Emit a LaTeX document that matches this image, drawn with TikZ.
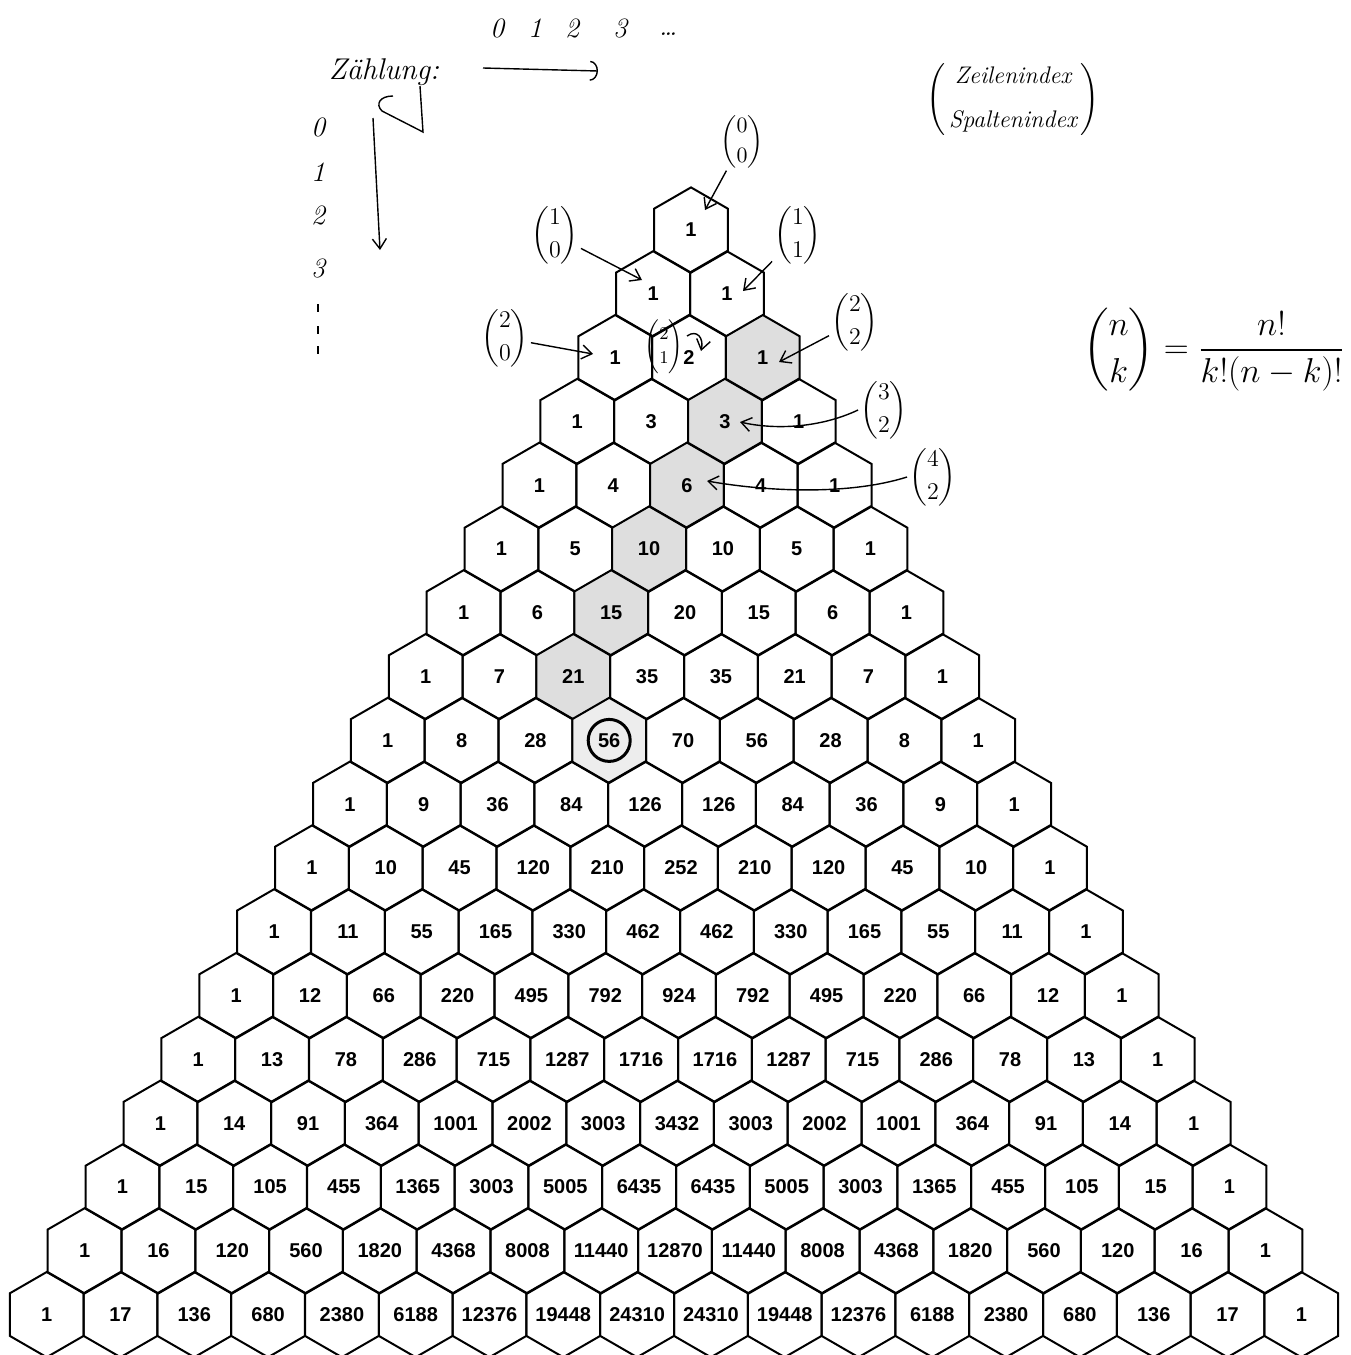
\documentclass[tikz,border=0pt]{standalone}
\usepackage{fontspec}
\usepackage{amsmath}
\newfontfamily\cellfont{Liberation Sans}
\usetikzlibrary{shapes.geometric, arrows.meta, positioning}

\begin{document}
\begin{tikzpicture}[
    x=0.5pt, y=-0.5pt,
    hexcell/.style={regular polygon, regular polygon sides=6, shape border rotate=30, minimum size=42.6pt, inner sep=0pt, outer sep=0pt, draw, line width=1pt, font=\cellfont\bfseries\fontsize{10}{12}\selectfont},
    marked/.style={fill=black!13},
    faint/.style={fill=black!7},
    cell-2-2/.style={marked}, cell-3-2/.style={marked}, cell-4-2/.style={marked},
    cell-5-2/.style={marked}, cell-6-2/.style={marked}, cell-7-2/.style={marked},
    cell-8-3/.style={faint},
    handtext/.style={font=\itshape\fontsize{15}{17}\selectfont, inner sep=1pt},
    handdigit/.style={font=\itshape\fontsize{14}{16}\selectfont, inner sep=1pt},
    binomnote/.style={inner sep=1pt, font=\fontsize{13}{15}\selectfont},
    handarrow/.style={line width=0.7pt, -{Straight Barb[length=5pt,width=7pt]}},
    roundarrow/.style={line width=0.7pt, -{Arc Barb[length=4pt,width=10pt]}}
]
\useasboundingbox (0,0) rectangle (1350,1355);

\foreach \n in {0,...,17}{
  \xdef\val{1}
  \foreach \k in {0,...,\n}{
    \node[hexcell, cell-\n-\k/.try] (h-\n-\k) at ({691-\n+(\k-\n/2)*73.8},{230+\n*63.8}) {\makebox[0pt]{\val}};
    \xdef\val{\the\numexpr\val*(\n-\k)/(\k+1)\relax}
  }
}
\node[draw, circle, line width=1.5pt, minimum size=21pt, inner sep=0pt] (ring) at (h-8-3) {};

\node[handtext] (zaehlung) at (384,72) {Zählung:};
\foreach \d/\x in {0/497,1/535,2/572,3/620}
  \node[handdigit] (top\d) at (\x,28) {\d};
\node[handdigit] (topdots) at (668,34) {\dots};
\foreach \d/\y in {0/127,1/172,2/215,3/268}
  \node[handdigit] (left\d) at (318,\y) {\d};
\foreach \y in {308,330,350}
  \draw[line width=0.8pt] (318,\y-4) -- (318,\y+4);

\coordinate (r0) at (483,68);
\coordinate (r1) at (598,71);
\coordinate (d0) at (373,118);
\coordinate (d1) at (380,250);
\draw[roundarrow] (r0) -- (r1);
\draw[handarrow] (d0) -- (d1);
\draw[line width=0.7pt] (420,86) -- (423,132) -- (382,111) .. controls (375,104) and (380,96) .. (393,96);

\node[font=\itshape\fontsize{12}{14}\selectfont] (index) at (1013,100)
  {$\left(\begin{tabular}{@{\,}c@{\,}}Zeilenindex\\[8pt]Spaltenindex\end{tabular}\right)$};
\node[font=\fontsize{17}{20}\selectfont] (formula) at (1214,350)
  {$\dbinom{n}{k}=\dfrac{\;n!\;}{k!(n-k)!}$};

\node[binomnote, font=\fontsize{11}{13}\selectfont] (b00) at (742,142) {$\dbinom{0}{0}$};
\node[binomnote] (b10) at (555,235) {$\dbinom{1}{0}$};
\node[binomnote] (b11) at (798,235) {$\dbinom{1}{1}$};
\node[binomnote] (b20) at (505,338) {$\dbinom{2}{0}$};
\node[binomnote, font=\fontsize{9}{10}\selectfont] (b21) at (664,347) {$\dbinom{2}{1}$};
\node[binomnote] (b22) at (855,322) {$\dbinom{2}{2}$};
\node[binomnote] (b32) at (884,410) {$\dbinom{3}{2}$};
\node[binomnote] (b42) at (933,477) {$\dbinom{4}{2}$};

\coordinate (a00) at (705,210);
\coordinate (a10) at (642,280);
\coordinate (a11) at (743,291);
\coordinate (a20) at (593,354);
\coordinate (c21) at (687,336);
\coordinate (a21) at (701,351);
\coordinate (a22) at (779,362);
\coordinate (a32) at (740,422);
\coordinate (a42) at (707,481);

\draw[handarrow] (b00) -- (a00);
\draw[handarrow] (b10) -- (a10);
\draw[handarrow] (b11) -- (a11);
\draw[handarrow] (b20) -- (a20);
\draw[handarrow] (c21) .. controls (697,329) and (704,338) .. (a21);
\draw[handarrow] (b22) -- (a22);
\draw[handarrow] (b32.west) .. controls (820,428) and (775,430) .. (a32);
\draw[handarrow] (b42.west) .. controls (850,495) and (770,492) .. (a42);
\end{tikzpicture}
\end{document}
